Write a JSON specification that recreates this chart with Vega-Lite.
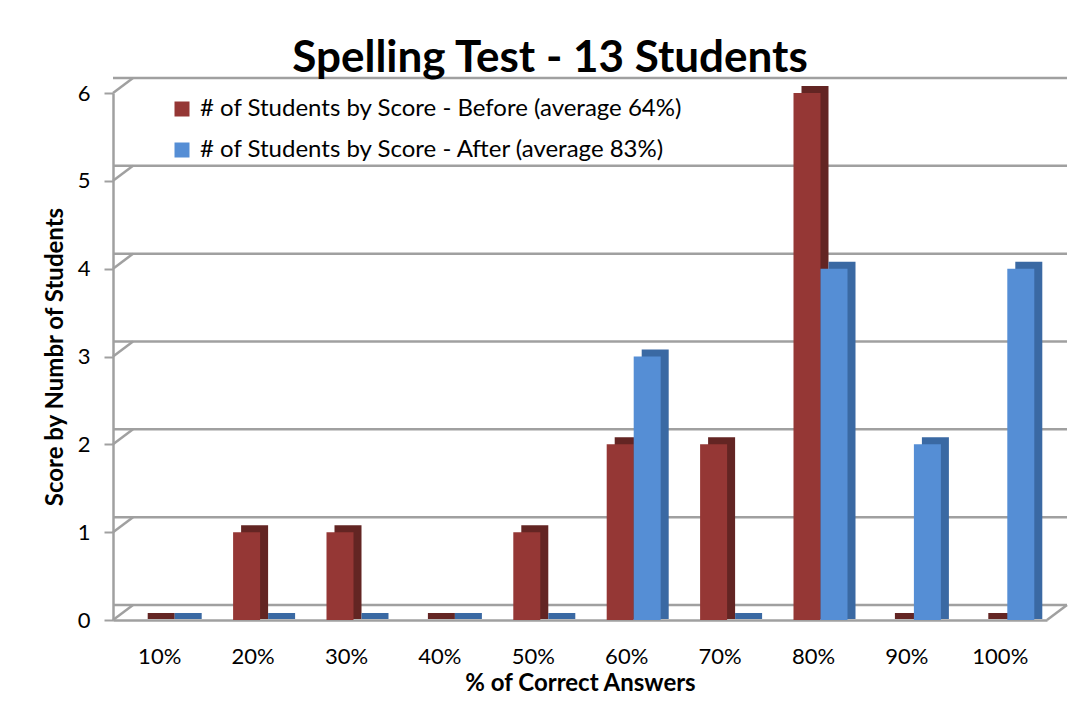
{
  "$schema": "https://vega.github.io/schema/vega-lite/v6.json",
  "autosize": "none",
  "width": 934,
  "height": 527,
  "padding": {"left": 113, "top": 93, "right": 28, "bottom": 86},
  "background": "white",
  "title": {
    "text": "Spelling Test - 13 Students",
    "font": "Lato",
    "fontSize": 44,
    "fontWeight": "bold",
    "color": "black",
    "anchor": "middle",
    "dx": -30,
    "offset": -4
  },
  "datasets": {
    "bars": [
      {"score": "10%", "series": "# of Students by Score - Before (average 64%)", "count": 0},
      {"score": "20%", "series": "# of Students by Score - Before (average 64%)", "count": 1},
      {"score": "30%", "series": "# of Students by Score - Before (average 64%)", "count": 1},
      {"score": "40%", "series": "# of Students by Score - Before (average 64%)", "count": 0},
      {"score": "50%", "series": "# of Students by Score - Before (average 64%)", "count": 1},
      {"score": "60%", "series": "# of Students by Score - Before (average 64%)", "count": 2},
      {"score": "70%", "series": "# of Students by Score - Before (average 64%)", "count": 2},
      {"score": "80%", "series": "# of Students by Score - Before (average 64%)", "count": 6},
      {"score": "90%", "series": "# of Students by Score - Before (average 64%)", "count": 0},
      {"score": "100%", "series": "# of Students by Score - Before (average 64%)", "count": 0},
      {"score": "10%", "series": "# of Students by Score - After (average 83%)", "count": 0},
      {"score": "20%", "series": "# of Students by Score - After (average 83%)", "count": 0},
      {"score": "30%", "series": "# of Students by Score - After (average 83%)", "count": 0},
      {"score": "40%", "series": "# of Students by Score - After (average 83%)", "count": 0},
      {"score": "50%", "series": "# of Students by Score - After (average 83%)", "count": 0},
      {"score": "60%", "series": "# of Students by Score - After (average 83%)", "count": 3},
      {"score": "70%", "series": "# of Students by Score - After (average 83%)", "count": 0},
      {"score": "80%", "series": "# of Students by Score - After (average 83%)", "count": 4},
      {"score": "90%", "series": "# of Students by Score - After (average 83%)", "count": 2},
      {"score": "100%", "series": "# of Students by Score - After (average 83%)", "count": 4}
    ],
    "grid": [{"v": 0}, {"v": 1}, {"v": 2}, {"v": 3}, {"v": 4}, {"v": 5}, {"v": 6}]
  },
  "layer": [
    {
      "data": {"name": "grid"},
      "mark": {"type": "rule", "color": "#a0a0a0", "strokeWidth": 2.5, "xOffset": 20, "yOffset": -15, "clip": false},
      "encoding": {
        "y": {"field": "v", "type": "quantitative", "scale": {"domain": [0, 6], "nice": false}, "title": "Score by Numbr of Students", "axis": {"values": [0, 1, 2, 3, 4, 5, 6], "format": "d"}}
      }
    },
    {
      "data": {"name": "grid"},
      "mark": {"type": "rule", "color": "#a0a0a0", "strokeWidth": 2.5, "xOffset": -19.6, "x2Offset": 0.4, "y2Offset": -15},
      "encoding": {
        "x": {"datum": "10%", "bandPosition": 0, "type": "nominal", "title": "% of Correct Answers"},
        "x2": {"datum": "10%", "bandPosition": 0},
        "y": {"field": "v", "type": "quantitative", "title": "Score by Numbr of Students", "axis": {"values": [0, 1, 2, 3, 4, 5, 6], "format": "d"}},
        "y2": {"field": "v"}
      }
    },
    {
      "data": {"name": "grid"},
      "transform": [{"filter": "datum.v === 0"}],
      "mark": {"type": "rule", "color": "#a0a0a0", "strokeWidth": 2.5, "xOffset": 19.6, "x2Offset": 39.6, "y2Offset": -15, "clip": false},
      "encoding": {
        "x": {"datum": "100%", "bandPosition": 1, "type": "nominal", "title": "% of Correct Answers"},
        "x2": {"datum": "100%", "bandPosition": 1},
        "y": {"field": "v", "type": "quantitative", "title": "Score by Numbr of Students", "axis": {"values": [0, 1, 2, 3, 4, 5, 6], "format": "d"}},
        "y2": {"field": "v"}
      }
    },
    {
      "data": {"name": "bars"},
      "transform": [{"filter": "indexof(datum.series, 'Before') >= 0"}],
      "mark": {"type": "bar", "width": 27, "xOffset": 1.5, "yOffset": -7, "y2Offset": -1, "color": "#632523"},
      "encoding": {
        "x": {"field": "score", "type": "nominal", "sort": ["10%", "20%", "30%", "40%", "50%", "60%", "70%", "80%", "90%", "100%"], "title": "% of Correct Answers"},
        "y": {"field": "count", "type": "quantitative", "title": "Score by Numbr of Students", "axis": {"values": [0, 1, 2, 3, 4, 5, 6], "format": "d"}},
        "y2": {"datum": 0}
      }
    },
    {
      "data": {"name": "bars"},
      "transform": [{"filter": "indexof(datum.series, 'After') >= 0"}],
      "mark": {"type": "bar", "width": 27, "xOffset": 28.5, "yOffset": -7, "y2Offset": -1, "color": "#3A69A3"},
      "encoding": {
        "x": {"field": "score", "type": "nominal", "sort": ["10%", "20%", "30%", "40%", "50%", "60%", "70%", "80%", "90%", "100%"], "title": "% of Correct Answers"},
        "y": {"field": "count", "type": "quantitative", "title": "Score by Numbr of Students", "axis": {"values": [0, 1, 2, 3, 4, 5, 6], "format": "d"}},
        "y2": {"datum": 0}
      }
    },
    {
      "data": {"name": "bars"},
      "transform": [{"filter": "indexof(datum.series, 'Before') >= 0"}],
      "mark": {"type": "bar", "width": 27, "xOffset": -6.5},
      "encoding": {
        "x": {"field": "score", "type": "nominal", "sort": ["10%", "20%", "30%", "40%", "50%", "60%", "70%", "80%", "90%", "100%"], "title": "% of Correct Answers"},
        "y": {"field": "count", "type": "quantitative", "title": "Score by Numbr of Students", "axis": {"values": [0, 1, 2, 3, 4, 5, 6], "format": "d"}},
        "color": {
          "field": "series",
          "type": "nominal",
          "scale": {"domain": ["# of Students by Score - Before (average 64%)", "# of Students by Score - After (average 83%)"], "range": ["#953735", "#558ED5"]}
        }
      }
    },
    {
      "data": {"name": "bars"},
      "transform": [{"filter": "indexof(datum.series, 'After') >= 0"}],
      "mark": {"type": "bar", "width": 27, "xOffset": 20.5},
      "encoding": {
        "x": {"field": "score", "type": "nominal", "sort": ["10%", "20%", "30%", "40%", "50%", "60%", "70%", "80%", "90%", "100%"], "title": "% of Correct Answers"},
        "y": {"field": "count", "type": "quantitative", "title": "Score by Numbr of Students", "axis": {"values": [0, 1, 2, 3, 4, 5, 6], "format": "d"}},
        "color": {
          "field": "series",
          "type": "nominal",
          "scale": {"domain": ["# of Students by Score - Before (average 64%)", "# of Students by Score - After (average 83%)"], "range": ["#953735", "#558ED5"]}
        }
      }
    }
  ],
  "resolve": {"scale": {"x": "shared", "y": "shared", "color": "shared"}},
  "config": {
    "view": {"stroke": null},
    "scale": {"bandPaddingInner": 0.42, "bandPaddingOuter": 0.21},
    "axisX": {
      "titleFont": "Lato",
      "titleFontSize": 24,
      "titleFontWeight": "bold",
      "titleColor": "black",
      "titlePadding": 4,
      "labelFont": "Lato",
      "labelFontSize": 22,
      "labelColor": "black",
      "labelAngle": 0,
      "labelPadding": 26,
      "ticks": false,
      "domainColor": "#a0a0a0",
      "domainWidth": 2.5,
      "grid": false
    },
    "axisY": {
      "titleFont": "Lato",
      "titleFontSize": 24,
      "titleFontWeight": "bold",
      "titleColor": "black",
      "titlePadding": 10,
      "labelFont": "Lato",
      "labelFontSize": 22,
      "labelColor": "black",
      "labelPadding": 14,
      "labelOverlap": false,
      "tickSize": 9,
      "tickColor": "#a0a0a0",
      "tickWidth": 2,
      "domainColor": "#a0a0a0",
      "domainWidth": 2.5,
      "grid": false
    },
    "legend": {
      "title": null,
      "orient": "none",
      "legendX": 57,
      "legendY": 4,
      "symbolType": "square",
      "symbolSize": 225,
      "symbolStrokeWidth": 0,
      "symbolOpacity": 1,
      "labelFont": "Lato",
      "labelFontSize": 24,
      "labelColor": "black",
      "labelOffset": 6,
      "rowPadding": 17,
      "labelLimit": 800
    }
  }
}
